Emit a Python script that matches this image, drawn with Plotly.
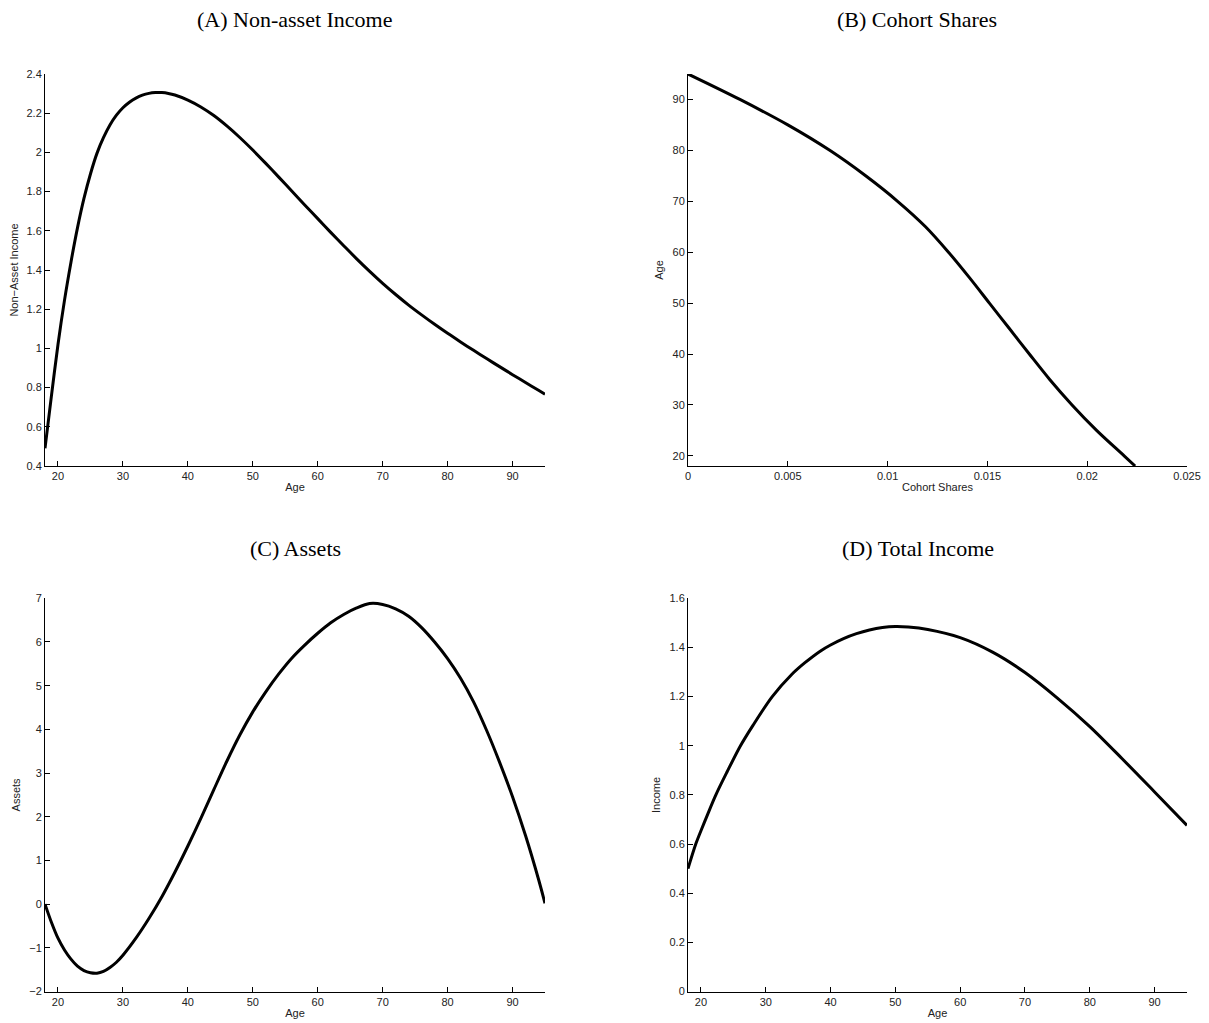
import plotly.graph_objects as go

# ---------------- data ----------------
# (A) Non-asset income by age
age_a = [18, 19, 20, 21, 22, 23, 24, 25, 26, 27, 28, 29, 30, 31, 32, 33, 34, 35, 36, 37, 38, 40, 42, 44, 46,
         48, 50, 52, 54, 56, 58, 60, 62, 64, 66, 68, 70, 72, 74, 76, 78, 80, 82, 84, 86, 88, 90, 92, 94, 95]
income_a = [0.49, 0.76, 1.02, 1.245, 1.44, 1.615, 1.765, 1.89, 1.995, 2.075, 2.14, 2.19, 2.228, 2.256, 2.277,
            2.292, 2.301, 2.305, 2.305, 2.301, 2.293, 2.267, 2.232, 2.188, 2.135, 2.076, 2.012, 1.944, 1.874,
            1.803, 1.732, 1.662, 1.592, 1.524, 1.457, 1.393, 1.332, 1.275, 1.221, 1.171, 1.123, 1.077, 1.033,
            0.990, 0.948, 0.907, 0.866, 0.826, 0.786, 0.766]

# (B) Cohort shares by age
age_b = [95, 90, 85, 80, 75, 70, 65, 60, 55, 50, 45, 40, 35, 30, 25, 20, 18]
share_b = [0.0, 0.0026, 0.0050, 0.0071, 0.0089, 0.0105, 0.0119, 0.01305, 0.0141, 0.0151, 0.0161, 0.0171,
           0.01812, 0.01924, 0.02047, 0.02185, 0.0224]

# (C) Assets by age
age_c = [18, 19, 20, 21, 22, 23, 24, 25, 26, 27, 28, 29, 30, 32, 34, 36, 38, 40, 42, 44, 46, 48, 50, 52, 54,
         56, 58, 60, 62, 64, 66, 68, 70, 72, 74, 76, 78, 80, 82, 84, 86, 88, 90, 92, 94, 95]
assets_c = [0.0, -0.42, -0.78, -1.05, -1.26, -1.42, -1.52, -1.57, -1.58, -1.54, -1.45, -1.33, -1.17, -0.78,
            -0.33, 0.17, 0.73, 1.33, 1.96, 2.62, 3.27, 3.87, 4.40, 4.86, 5.27, 5.63, 5.93, 6.20, 6.44, 6.63,
            6.78, 6.88, 6.86, 6.76, 6.59, 6.33, 6.00, 5.62, 5.17, 4.63, 3.98, 3.25, 2.46, 1.57, 0.57, 0.02]

# (D) Total income by age
age_d = [18, 19.2, 20, 21, 22.3, 24, 26.1, 28, 31, 34, 36, 38.4, 40, 42, 44, 46, 48, 50, 52, 55, 60, 65, 70,
         75, 80, 85, 90, 95]
income_d = [0.50, 0.6, 0.654, 0.719, 0.8, 0.892, 1.0, 1.082, 1.2, 1.29, 1.337, 1.385, 1.41, 1.436, 1.456,
            1.471, 1.481, 1.485, 1.483, 1.473, 1.44, 1.381, 1.298, 1.194, 1.078, 0.947, 0.812, 0.676]

panel_titles = ["(A) Non-asset Income", "(B) Cohort Shares", "(C) Assets", "(D) Total Income"]

age_ticks = [20, 30, 40, 50, 60, 70, 80, 90]
age_ticktext = ["20", "30", "40", "50", "60", "70", "80", "90"]
a_yticks = [0.4, 0.6, 0.8, 1.0, 1.2, 1.4, 1.6, 1.8, 2.0, 2.2, 2.4]
a_yticktext = ["0.4", "0.6", "0.8", "1", "1.2", "1.4", "1.6", "1.8", "2", "2.2", "2.4"]
b_xticks = [0, 0.005, 0.01, 0.015, 0.02, 0.025]
b_xticktext = ["0", "0.005", "0.01", "0.015", "0.02", "0.025"]
c_yticks = [-2, -1, 0, 1, 2, 3, 4, 5, 6, 7]
c_yticktext = ["\u22122", "\u22121", "0", "1", "2", "3", "4", "5", "6", "7"]
d_yticks = [0, 0.2, 0.4, 0.6, 0.8, 1.0, 1.2, 1.4, 1.6]
d_yticktext = ["0", "0.2", "0.4", "0.6", "0.8", "1", "1.2", "1.4", "1.6"]

# ---------------- figure ----------------
W, H = 1209, 1023
OFF = 8  # page body margin added by the browser

def fx(px):
    return (px - OFF) / W

def fy(py):
    return 1 - (py - OFF) / H

fig = go.Figure()

line = dict(color="black", width=3, shape="spline", smoothing=0.9)
fig.add_trace(go.Scatter(x=age_a, y=income_a, mode="lines", line=line, xaxis="x", yaxis="y",
                         showlegend=False))
fig.add_trace(go.Scatter(x=share_b, y=age_b, mode="lines", line=line, xaxis="x2", yaxis="y2",
                         showlegend=False))
fig.add_trace(go.Scatter(x=age_c, y=assets_c, mode="lines", line=line, xaxis="x3", yaxis="y3",
                         showlegend=False))
fig.add_trace(go.Scatter(x=age_d, y=income_d, mode="lines", line=line, xaxis="x4", yaxis="y4",
                         showlegend=False))

tickfont = dict(family="Liberation Sans, Arial, sans-serif", size=11, color="#222")
titlefont = dict(family="Liberation Sans, Arial, sans-serif", size=11, color="#222")

def ax(**kw):
    base = dict(showline=True, linecolor="black", linewidth=1, mirror=False,
                ticks="inside", ticklen=5, tickwidth=1, tickcolor="black",
                showgrid=False, zeroline=False, tickfont=tickfont, automargin=False,
                fixedrange=True)
    base.update(kw)
    return base

left_dom = [fx(45), fx(545)]
right_dom = [fx(688), fx(1187)]
top_dom = [fy(466), fy(74)]
bot_dom = [fy(991.5), fy(598.3)]

fig.update_layout(
    width=W, height=H,
    margin=dict(l=0, r=0, t=0, b=0),
    paper_bgcolor="white", plot_bgcolor="white",
    xaxis=ax(domain=left_dom, anchor="y", range=[18, 95], tickvals=age_ticks, ticktext=age_ticktext,
             title=dict(text="Age", font=titlefont, standoff=2)),
    yaxis=ax(domain=top_dom, anchor="x", range=[0.4, 2.4], tickvals=a_yticks, ticktext=a_yticktext,
             title=dict(text="Non\u2212Asset Income", font=titlefont, standoff=6)),
    xaxis2=ax(domain=right_dom, anchor="y2", range=[0, 0.025], tickvals=b_xticks, ticktext=b_xticktext,
              title=dict(text="Cohort Shares", font=titlefont, standoff=2)),
    yaxis2=ax(domain=top_dom, anchor="x2", range=[18, 95], tickvals=[20, 30, 40, 50, 60, 70, 80, 90],
              ticktext=["20", "30", "40", "50", "60", "70", "80", "90"],
              title=dict(text="Age", font=titlefont, standoff=6)),
    xaxis3=ax(domain=left_dom, anchor="y3", range=[18, 95], tickvals=age_ticks, ticktext=age_ticktext,
              title=dict(text="Age", font=titlefont, standoff=2)),
    yaxis3=ax(domain=bot_dom, anchor="x3", range=[-2, 7], tickvals=c_yticks, ticktext=c_yticktext,
              title=dict(text="Assets", font=titlefont, standoff=6)),
    xaxis4=ax(domain=right_dom, anchor="y4", range=[18, 95], tickvals=age_ticks, ticktext=age_ticktext,
              title=dict(text="Age", font=titlefont, standoff=2)),
    yaxis4=ax(domain=bot_dom, anchor="x4", range=[0, 1.6], tickvals=d_yticks, ticktext=d_yticktext,
              title=dict(text="Income", font=titlefont, standoff=6)),
)

title_font = dict(family="Liberation Serif, DejaVu Serif, serif", size=22, color="black")
title_pos = [(295, 20), (917, 20), (295, 548), (918, 548)]
for txt, (px, py) in zip(panel_titles, title_pos):
    fig.add_annotation(text=txt, x=fx(px), y=fy(py), xref="paper", yref="paper",
                       xanchor="center", yanchor="middle", showarrow=False, font=title_font)

fig.write_html("out.html")
